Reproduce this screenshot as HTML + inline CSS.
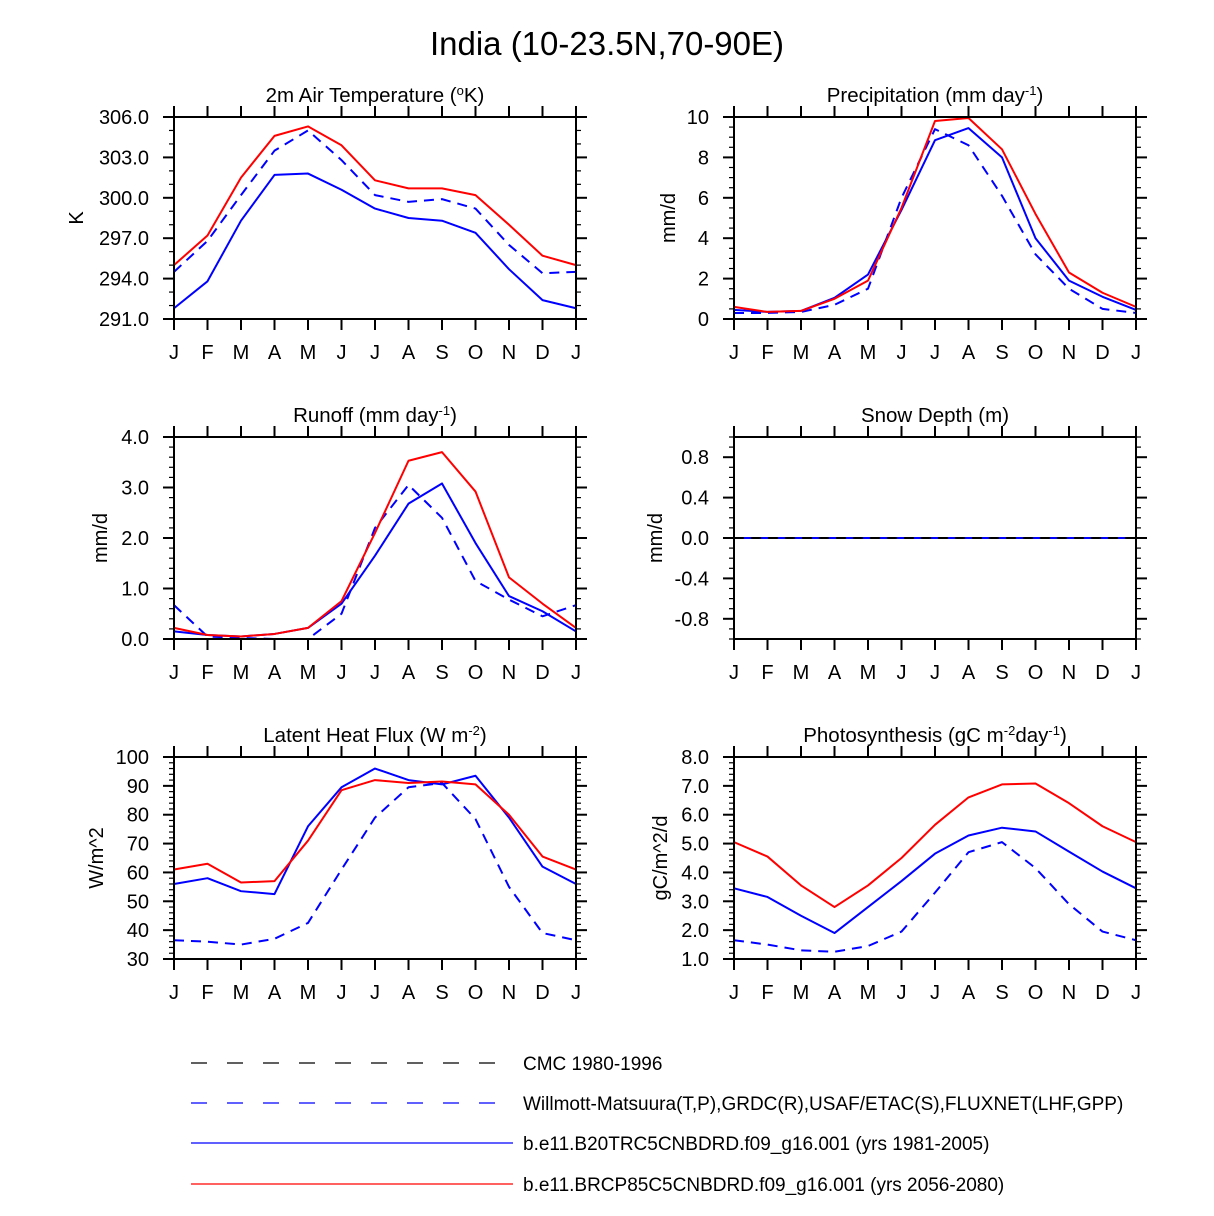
<!DOCTYPE html>
<html><head><meta charset="utf-8"><style>
html,body{margin:0;padding:0;background:#fff}
svg{display:block;font-family:"Liberation Sans",sans-serif}
</style></head><body>
<svg id="fig" width="1214" height="1216" viewBox="0 0 1214 1216" xmlns="http://www.w3.org/2000/svg">
<text x="607" y="55" text-anchor="middle" font-size="33">India (10-23.5N,70-90E)</text>
</svg>
<script>
const months = ["J","F","M","A","M","J","J","A","S","O","N","D","J"];
const tempRed = [295.0,297.2,301.5,304.6,305.3,303.9,301.3,300.7,300.7,300.2,298.0,295.7,295.0];
const tempBlue = [291.8,293.8,298.3,301.7,301.8,300.6,299.2,298.5,298.3,297.4,294.7,292.4,291.8];
const tempObs = [294.5,296.8,300.2,303.5,305.0,302.8,300.2,299.7,299.9,299.2,296.5,294.4,294.5];
const precRed = [0.6,0.35,0.4,1.0,1.9,5.5,9.8,9.95,8.4,5.2,2.3,1.3,0.6];
const precBlue = [0.45,0.35,0.4,1.05,2.2,5.4,8.85,9.45,8.0,4.0,1.9,1.1,0.45];
const precObs = [0.3,0.3,0.35,0.7,1.5,6.0,9.4,8.6,6.1,3.2,1.5,0.5,0.3];
const runRed = [0.22,0.08,0.05,0.1,0.22,0.75,2.1,3.53,3.7,2.92,1.22,0.7,0.22];
const runBlue = [0.15,0.08,0.05,0.1,0.22,0.7,1.65,2.68,3.08,1.9,0.85,0.55,0.15];
const runObs = [0.67,0.05,0.02,0.0,0.0,0.5,2.2,3.05,2.4,1.15,0.78,0.45,0.67];
const snowCmc = [0,0,0,0,0,0,0,0,0,0,0,0,0];
const snowObs = [0,0,0,0,0,0,0,0,0,0,0,0,0];
const lhfRed = [61,63,56.5,57,71,88.5,92,91,91.5,90.5,80,65.5,61];
const lhfBlue = [56,58,53.5,52.5,76,89.5,96,92,90.5,93.5,79,62,56];
const lhfObs = [36.5,36,35,37,42.5,61,79,89.5,91,78.5,55,39,36.5];
const gppRed = [5.05,4.55,3.55,2.8,3.55,4.5,5.65,6.6,7.05,7.08,6.4,5.6,5.05];
const gppBlue = [3.45,3.15,2.5,1.9,2.8,3.7,4.65,5.28,5.55,5.42,4.72,4.03,3.45];
const gppObs = [1.65,1.5,1.3,1.25,1.45,1.95,3.3,4.7,5.05,4.15,2.9,1.95,1.65];
const tempTicks = [291,294,297,300,303,306];
const precTicks = [0,2,4,6,8,10];
const runTicks = [0,1,2,3,4];
const snowTicks = [-0.8,-0.4,0,0.4,0.8];
const lhfTicks = [30,40,50,60,70,80,90,100];
const gppTicks = [1,2,3,4,5,6,7,8];

const NS="http://www.w3.org/2000/svg";
const svg=document.getElementById('fig');
function mk(tag,attrs,parent){const e=document.createElementNS(NS,tag);for(const k in attrs)e.setAttribute(k,attrs[k]);(parent||svg).appendChild(e);return e;}

const sup=s=>'<tspan baseline-shift="super" font-size="13">'+s+'</tspan>';
const panels=[
 {name:'air-temperature',title:'2m Air Temperature ('+sup('o')+'K)',ylab:'K',ylx:76,x0:174,y0:117,min:291,max:306,ticks:tempTicks,minor:1,dec:1,series:[[tempObs,'obs'],[tempBlue,'blue'],[tempRed,'red']]},
 {name:'precipitation',title:'Precipitation (mm day'+sup('-1')+')',ylab:'mm/d',ylx:668,x0:734,y0:117,min:0,max:10,ticks:precTicks,minor:0.5,dec:0,series:[[precObs,'obs'],[precBlue,'blue'],[precRed,'red']]},
 {name:'runoff',title:'Runoff (mm day'+sup('-1')+')',ylab:'mm/d',ylx:100,x0:174,y0:437,min:0,max:4,ticks:runTicks,minor:0.2,dec:1,series:[[runObs,'obs'],[runBlue,'blue'],[runRed,'red']]},
 {name:'snow-depth',title:'Snow Depth (m)',ylab:'mm/d',ylx:655,x0:734,y0:437,min:-1,max:1,ticks:snowTicks,minor:0.1,dec:1,series:[[snowObs,'obs'],[snowCmc,'cmc']]},
 {name:'latent-heat-flux',title:'Latent Heat Flux (W m'+sup('-2')+')',ylab:'W/m^2',ylx:96,x0:174,y0:757,min:30,max:100,ticks:lhfTicks,minor:2,dec:0,series:[[lhfObs,'obs'],[lhfBlue,'blue'],[lhfRed,'red']]},
 {name:'photosynthesis',title:'Photosynthesis (gC m'+sup('-2')+'day'+sup('-1')+')',ylab:'gC/m^2/d',ylx:660,x0:734,y0:757,min:1,max:8,ticks:gppTicks,minor:0.2,dec:1,series:[[gppObs,'obs'],[gppBlue,'blue'],[gppRed,'red']]}
];
const W=402,H=202;
const styles={red:{stroke:'#ff0000',dash:''},blue:{stroke:'#0000ff',dash:''},obs:{stroke:'#0000ff',dash:'10 7'},cmc:{stroke:'#000000',dash:'10 7'}};
panels.forEach(p=>{
 const g=mk('g',{});
 
 
 const xs=i=>p.x0+i*W/12;
 const ys=v=>p.y0+H-(v-p.min)/(p.max-p.min)*H;
 const t=mk('text',{x:p.x0+W/2,y:p.y0-15,'text-anchor':'middle','font-size':20.5},g);
 t.innerHTML=p.title;
 
 
 const yl=mk('text',{x:0,y:0,'text-anchor':'middle','font-size':20,transform:`translate(${p.ylx+7},${p.y0+H/2}) rotate(-90)`},g);
 yl.textContent=p.ylab;
 
 
 const n=Math.round((p.max-p.min)/p.minor);
 for(let k=0;k<=n;k++){const y=ys(p.min+k*p.minor);
  mk('line',{x1:p.x0,x2:p.x0-5,y1:y,y2:y,stroke:'#000','stroke-width':1.2},g);
  mk('line',{x1:p.x0+W,x2:p.x0+W+5,y1:y,y2:y,stroke:'#000','stroke-width':1.2},g);}
 p.ticks.forEach(v=>{const y=ys(v);
  mk('line',{x1:p.x0-11,x2:p.x0,y1:y,y2:y,stroke:'#000','stroke-width':2},g);
  mk('line',{x1:p.x0+W,x2:p.x0+W+11,y1:y,y2:y,stroke:'#000','stroke-width':2},g);
  const tl=mk('text',{x:p.x0-25,y:y+7,'text-anchor':'end','font-size':20},g);
  tl.textContent=v.toFixed(p.dec);
  
  });
 months.forEach((m,i)=>{const x=xs(i);
  mk('line',{x1:x,x2:x,y1:p.y0-11,y2:p.y0,stroke:'#000','stroke-width':2},g);
  mk('line',{x1:x,x2:x,y1:p.y0+H,y2:p.y0+H+11,stroke:'#000','stroke-width':2},g);
  const ml=mk('text',{x:x,y:p.y0+H+40,'text-anchor':'middle','font-size':20},g);
  ml.textContent=m;
  
  });
 p.series.forEach(([arr,key])=>{const s=styles[key];
  const attrs={points:arr.map((v,i)=>xs(i)+','+ys(v)).join(' '),fill:'none',stroke:s.stroke,'stroke-width':2,'stroke-linejoin':'round'};
  if(s.dash) attrs['stroke-dasharray']=s.dash;
  if(key==='obs' && p.name==='snow-depth'){attrs['stroke-dasharray']='';}
  const pl=mk('polyline',attrs,g);
  
  });
 const box=mk('rect',{x:p.x0,y:p.y0,width:W,height:H,fill:'none',stroke:'#000','stroke-width':2},g);
 
 
});
const legend=[
 ['#000','16 20','CMC 1980-1996',1063,'legend-entry-cmc'],
 ['#0000ff','16 20','Willmott-Matsuura(T,P),GRDC(R),USAF/ETAC(S),FLUXNET(LHF,GPP)',1103,'legend-entry-observations'],
 ['#0000ff','','b.e11.B20TRC5CNBDRD.f09_g16.001 (yrs 1981-2005)',1143,'legend-entry-historical'],
 ['#ff0000','','b.e11.BRCP85C5CNBDRD.f09_g16.001 (yrs 2056-2080)',1184,'legend-entry-rcp85']];
legend.forEach(([c,d,txt,y,nm])=>{
 const g=mk('g',{});
 
 
 const la={x1:191,x2:d?497:513,y1:y,y2:y,stroke:c,'stroke-width':1.2};
 if(d) la['stroke-dasharray']=d;
 mk('line',la,g);
 const t=mk('text',{x:523,y:y+7,'font-size':19,textLength:txt.length>60?607:null},g);
 if(txt.length<=60) t.removeAttribute('textLength');
 t.textContent=txt;});
</script>
</body></html>
